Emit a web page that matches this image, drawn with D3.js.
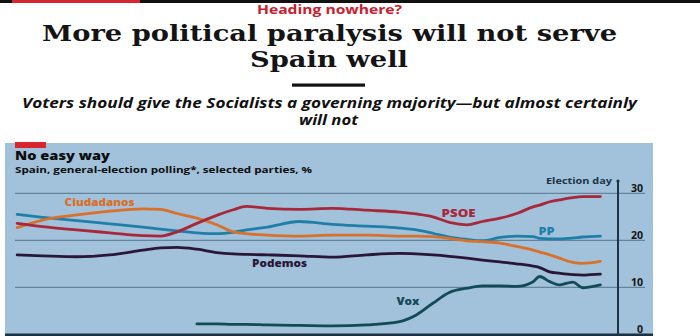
<!DOCTYPE html>
<html>
<head>
<meta charset="utf-8">
<script src="https://cdn.jsdelivr.net/npm/d3@7"></script>
<style>
  html, body { margin: 0; padding: 0; background: #fff; }
  svg { display: block; }
</style>
</head>
<body>
<svg id="chart" width="700" height="336"></svg>
<script>
// ---------- data ----------
const dates = ["2017-10-30","2017-11-22","2017-12-23","2018-01-22","2018-02-21","2018-03-09","2018-03-24","2018-04-11","2018-04-29","2018-05-14","2018-05-26","2018-06-14","2018-07-13","2018-08-12","2018-09-12","2018-10-12","2018-10-27","2018-11-11","2018-11-26","2018-12-12","2018-12-26","2019-01-11","2019-01-26","2019-02-10","2019-02-16","2019-02-25","2019-03-06","2019-03-13","2019-03-18","2019-03-27","2019-04-03","2019-04-12"];
const pp         = [25.5,24.9,24.2,23.5,22.8,22.4,22.0,21.6,21.4,21.7,22.2,22.8,24.0,23.4,23.0,22.6,22.2,21.5,20.7,20.2,19.9,20.6,20.9,20.8,20.4,20.3,20.3,20.4,20.5,20.7,20.8,20.9];
const psoe       = [23.6,22.9,22.2,21.6,21.0,20.9,21.8,23.6,25.3,26.5,27.2,26.8,26.6,26.8,26.4,26.0,25.6,25.0,23.8,23.3,24.0,24.7,25.7,27.1,27.5,28.2,28.6,28.9,29.1,29.3,29.3,29.3];
const ciudadanos = [22.7,24.3,25.4,26.2,26.7,26.6,25.7,24.7,23.3,21.8,21.4,21.1,20.9,21.1,21.1,20.9,20.9,20.8,20.4,19.9,19.7,19.4,18.7,17.9,17.5,16.9,16.2,15.6,15.3,15.1,15.2,15.5];
const podemos    = [16.9,16.7,16.5,16.9,17.9,18.4,18.5,18.1,17.4,17.1,17.0,16.9,16.7,16.4,16.9,17.2,17.1,16.9,16.6,16.2,15.8,15.4,15.0,14.5,14.2,13.3,13.0,12.8,12.7,12.6,12.7,12.8];
const vox        = [null,null,null,null,null,null,null,2.2,2.2,2.1,2.1,2.0,1.9,1.8,2.0,2.7,4.1,6.6,8.9,9.8,10.3,10.3,10.2,11.2,12.3,11.2,10.5,10.9,11.1,9.9,10.1,10.5];
const yTicks = [0, 10, 20, 30];
const electionDay = "2019-04-28";
const domainStart = "2017-10-28";

const seriesNames  = ["PP","Ciudadanos","PSOE","Podemos","Vox"];
const seriesValues = [pp, ciudadanos, psoe, podemos, vox];
const seriesColors = ["#1f7fa9","#d9702b","#a8283b","#2a1737","#134a58"];
// label anchor (date, value) for each series name
const labelDates  = ["2019-02-15","2017-12-12","2018-11-19","2018-05-31","2018-10-09"];
const labelValues = [21.1, 27.4, 25.0, 14.4, 6.2];
const labelWidths = [16, 70, 34, 55, 23];

// ---------- drawing ----------
const svg = d3.select("#chart");
const parse = d3.timeParse("%Y-%m-%d");

// stretch a text horizontally to the wanted width (keeps glyph height)
function fit(t, w) {
  t.attr("textLength", w).attr("lengthAdjust", "spacingAndGlyphs");
  return t;
}

svg.append("rect").attr("width", 700).attr("height", 336).attr("fill", "#fff");

// top bar
svg.append("rect").attr("x", 0).attr("y", 0).attr("width", 700).attr("height", 3).attr("fill", "#111");
svg.append("rect").attr("x", 12).attr("y", 0).attr("width", 128).attr("height", 3).attr("fill", "#d7262f");

const sans = "'Open Sans', 'DejaVu Sans', sans-serif";
const serif = "'DejaVu Serif', serif";

fit(svg.append("text").attr("x", 329.5).attr("y", 13.5).attr("text-anchor", "middle")
  .attr("font-family", sans).attr("font-weight", 700).attr("font-size", 12.5)
  .attr("fill", "#c8202f").text("Heading nowhere?"), 145);

fit(svg.append("text").attr("x", 329.5).attr("y", 41).attr("text-anchor", "middle")
  .attr("font-family", serif).attr("font-weight", 700).attr("font-size", 22.5)
  .attr("fill", "#141414").text("More political paralysis will not serve"), 575);
fit(svg.append("text").attr("x", 329).attr("y", 67).attr("text-anchor", "middle")
  .attr("font-family", serif).attr("font-weight", 700).attr("font-size", 22.5)
  .attr("fill", "#141414").text("Spain well"), 158);

svg.append("rect").attr("x", 292).attr("y", 83.5).attr("width", 73).attr("height", 3.2).attr("fill", "#111");

fit(svg.append("text").attr("x", 329.5).attr("y", 108.3).attr("text-anchor", "middle")
  .attr("font-family", sans).attr("font-style", "italic").attr("font-weight", 700).attr("font-size", 13.5)
  .attr("fill", "#111").text("Voters should give the Socialists a governing majority\u2014but almost certainly"), 615);
fit(svg.append("text").attr("x", 328.5).attr("y", 125).attr("text-anchor", "middle")
  .attr("font-family", sans).attr("font-style", "italic").attr("font-weight", 700).attr("font-size", 13.5)
  .attr("fill", "#111").text("will not"), 59);

// chart panel
svg.append("rect").attr("x", 5).attr("y", 143).attr("width", 648).attr("height", 193).attr("fill", "#a1c2da");
svg.append("rect").attr("x", 15).attr("y", 142).attr("width", 31).attr("height", 6).attr("fill", "#d7262f");

fit(svg.append("text").attr("x", 15).attr("y", 160.3)
  .attr("font-family", sans).attr("font-weight", 800).attr("font-size", 12)
  .attr("fill", "#0d0d0d").text("No easy way"), 95);
fit(svg.append("text").attr("x", 15).attr("y", 172.8)
  .attr("font-family", sans).attr("font-weight", 700).attr("font-size", 9)
  .attr("fill", "#0d0d0d").text("Spain, general-election polling*, selected parties, %"), 297);

const x = d3.scaleTime().domain([parse(domainStart), parse(electionDay)]).range([15, 618]);
const y = d3.scaleLinear().domain([0, 30]).range([334.3, 193.3]);

// gridlines
const grid = svg.append("g");
grid.selectAll("line").data(yTicks.filter(d => d !== 0)).join("line")
  .attr("x1", 15).attr("x2", 645).attr("y1", d => y(d)).attr("y2", d => y(d))
  .attr("stroke", "#55748c").attr("stroke-width", 1);
grid.append("line").attr("x1", 5).attr("x2", 653).attr("y1", y(0) + 0.5).attr("y2", y(0) + 0.5)
  .attr("stroke", "#1d3142").attr("stroke-width", 2.5);

// right axis labels
svg.append("g").selectAll("text").data(yTicks).join("text")
  .attr("x", 643).attr("y", d => y(d) - 1.5).attr("text-anchor", "end")
  .attr("font-family", sans).attr("font-weight", 700).attr("font-size", 10.5)
  .attr("fill", "#141414").text(d => d);

// election day marker
const ex = x(parse(electionDay));
svg.append("line").attr("x1", ex).attr("x2", ex).attr("y1", 181).attr("y2", 336)
  .attr("stroke", "#1d3447").attr("stroke-width", 2);
svg.append("circle").attr("cx", ex).attr("cy", 181).attr("r", 1.6).attr("fill", "#1d3447");
fit(svg.append("text").attr("x", ex - 6).attr("y", 184).attr("text-anchor", "end")
  .attr("font-family", sans).attr("font-weight", 700).attr("font-size", 9.5)
  .attr("fill", "#1d3447").text("Election day"), 66);

// lines
const parsedDates = dates.map(parse);
const line = d3.line()
  .defined(d => d[1] !== null)
  .x(d => x(d[0])).y(d => y(d[1]))
  .curve(d3.curveMonotoneX);

seriesValues.forEach((vals, i) => {
  svg.append("path")
    .datum(parsedDates.map((dt, j) => [dt, vals[j]]))
    .attr("d", line)
    .attr("fill", "none")
    .attr("stroke", seriesColors[i])
    .attr("stroke-width", 2.8)
    .attr("stroke-linejoin", "round")
    .attr("stroke-linecap", "round");
});

// series labels
seriesNames.forEach((name, i) => {
  fit(svg.append("text")
    .attr("x", x(parse(labelDates[i]))).attr("y", y(labelValues[i]))
    .attr("font-family", sans).attr("font-weight", 800).attr("font-size", 11)
    .attr("fill", seriesColors[i]).text(name), labelWidths[i]);
});
</script>
</body>
</html>
